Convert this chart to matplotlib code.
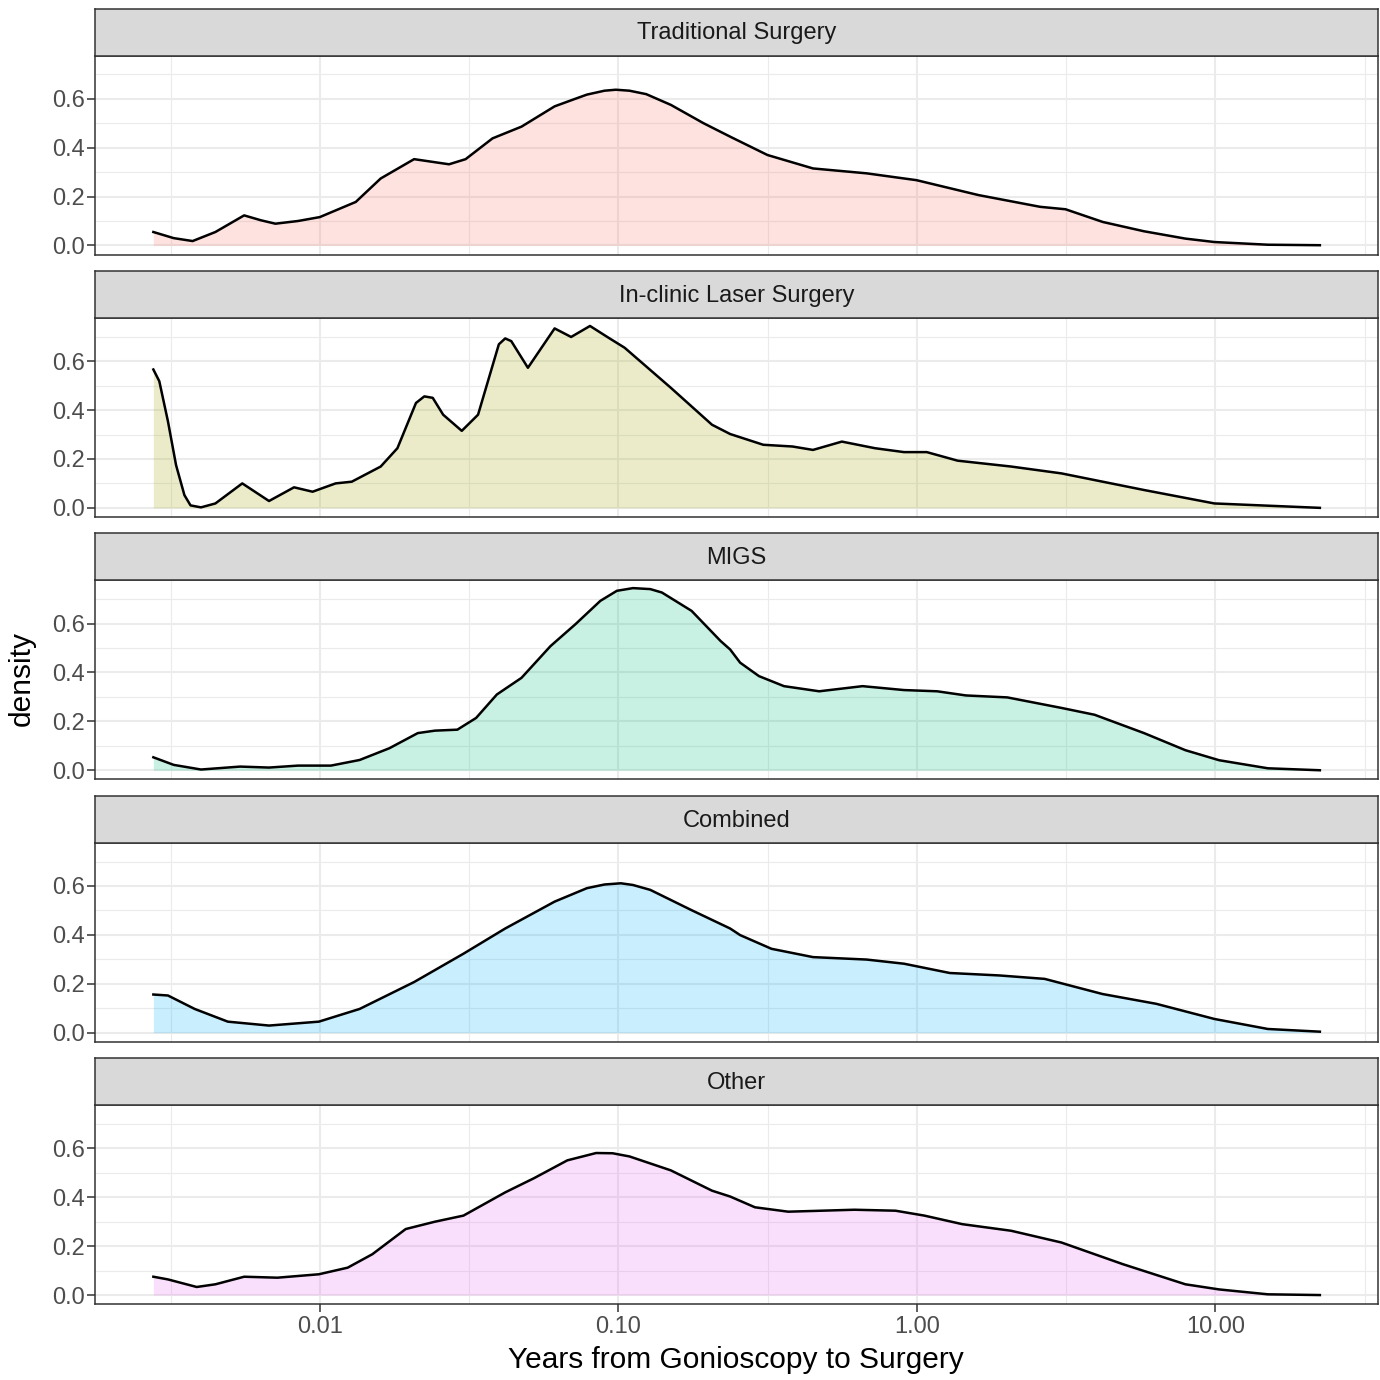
import matplotlib
matplotlib.use("Agg")
import matplotlib.pyplot as plt

plt.rcParams["font.family"] = ["Liberation Sans", "DejaVu Sans"]

# ---- data (years, density) ----
groups = ["Traditional Surgery", "In-clinic Laser Surgery", "MIGS", "Combined", "Other"]
fill_colors = ["#F8766D", "#A3A500", "#00BF7D", "#00B0F6", "#E76BF3"]

trad_x = [0.00277, 0.00324, 0.00375, 0.00447, 0.00558, 0.00635, 0.00710, 0.00845,
          0.0100, 0.0132, 0.0160, 0.0207, 0.0271, 0.0308, 0.0379, 0.0474, 0.0612,
          0.0718, 0.0785, 0.0899, 0.0982, 0.109, 0.124, 0.150, 0.193, 0.237, 0.316,
          0.449, 0.679, 0.998, 1.61, 2.59, 3.15, 4.20, 5.77, 7.94, 9.93, 15.0, 22.4]
trad_d = [0.055, 0.030, 0.018, 0.055, 0.123, 0.103, 0.089, 0.100,
          0.116, 0.178, 0.274, 0.353, 0.332, 0.353, 0.438, 0.486, 0.569,
          0.600, 0.617, 0.633, 0.637, 0.633, 0.619, 0.575, 0.500, 0.445, 0.370,
          0.315, 0.295, 0.267, 0.206, 0.158, 0.148, 0.096, 0.058, 0.028, 0.014, 0.003, 0.001]

laser_x = [0.00277, 0.00290, 0.00310, 0.00330, 0.00352, 0.00369, 0.00400, 0.00447,
           0.00550, 0.00676, 0.00820, 0.00946, 0.0113, 0.0128, 0.0160, 0.0182,
           0.0210, 0.0224, 0.0239, 0.0259, 0.0299, 0.0339, 0.0398, 0.0418, 0.0438,
           0.0498, 0.0612, 0.0695, 0.0804, 0.0927, 0.105, 0.150, 0.206, 0.237,
           0.306, 0.383, 0.449, 0.561, 0.724, 0.906, 1.08, 1.37, 2.07, 3.05, 5.77,
           9.93, 22.4]
laser_d = [0.566, 0.518, 0.354, 0.175, 0.052, 0.010, 0.002, 0.018,
           0.100, 0.028, 0.084, 0.066, 0.100, 0.107, 0.169, 0.244,
           0.429, 0.456, 0.450, 0.381, 0.315, 0.381, 0.669, 0.693, 0.682,
           0.573, 0.734, 0.699, 0.744, 0.696, 0.655, 0.491, 0.340, 0.302,
           0.258, 0.251, 0.237, 0.271, 0.244, 0.228, 0.228, 0.193, 0.169, 0.141, 0.073,
           0.018, 0.0]

migs_x = [0.00277, 0.00324, 0.00400, 0.00541, 0.00676, 0.00845, 0.0109, 0.0136,
          0.0171, 0.0213, 0.0243, 0.0289, 0.0334, 0.0392, 0.0474, 0.0593, 0.0718,
          0.0871, 0.0989, 0.112, 0.128, 0.140, 0.176, 0.220, 0.237, 0.256, 0.296,
          0.359, 0.471, 0.658, 0.906, 1.17, 1.46, 2.01, 3.05, 3.94, 5.77, 7.94,
          10.3, 15.0, 22.4]
migs_d = [0.053, 0.022, 0.003, 0.015, 0.011, 0.019, 0.019, 0.042,
          0.090, 0.152, 0.162, 0.166, 0.214, 0.310, 0.378, 0.508, 0.597,
          0.693, 0.734, 0.745, 0.741, 0.727, 0.652, 0.529, 0.494, 0.440, 0.385,
          0.344, 0.323, 0.344, 0.328, 0.323, 0.306, 0.298, 0.255, 0.227, 0.152, 0.082,
          0.041, 0.008, 0.0]

comb_x = [0.00277, 0.00310, 0.00381, 0.00492, 0.00676, 0.00993, 0.0136, 0.0207,
          0.0303, 0.0418, 0.0612, 0.0785, 0.0899, 0.102, 0.112, 0.128, 0.176, 0.237,
          0.256, 0.326, 0.449, 0.679, 0.906, 1.29, 1.89, 2.68, 4.19, 6.34, 9.93,
          15.0, 22.4]
comb_d = [0.156, 0.152, 0.097, 0.045, 0.029, 0.045, 0.097, 0.207,
          0.323, 0.426, 0.536, 0.591, 0.606, 0.611, 0.604, 0.584, 0.501, 0.426,
          0.399, 0.343, 0.309, 0.299, 0.282, 0.244, 0.234, 0.220, 0.158, 0.118, 0.056,
          0.015, 0.004]

other_x = [0.00277, 0.00310, 0.00387, 0.00447, 0.00558, 0.00721, 0.00993, 0.0124,
           0.0150, 0.0194, 0.0243, 0.0303, 0.0418, 0.0522, 0.0675, 0.0843, 0.0957,
           0.109, 0.150, 0.206, 0.237, 0.287, 0.371, 0.618, 0.849, 1.06, 1.42, 2.07,
           3.05, 4.91, 7.94, 10.3, 15.0, 22.4]
other_d = [0.075, 0.064, 0.033, 0.044, 0.075, 0.071, 0.085, 0.112,
           0.167, 0.270, 0.300, 0.325, 0.420, 0.478, 0.551, 0.581, 0.580,
           0.567, 0.510, 0.427, 0.403, 0.359, 0.341, 0.349, 0.345, 0.325, 0.290, 0.263,
           0.215, 0.126, 0.044, 0.023, 0.003, 0.0]

series = [(trad_x, trad_d), (laser_x, laser_d), (migs_x, migs_d),
          (comb_x, comb_d), (other_x, other_d)]

x_major = [0.01, 0.1, 1, 10]
x_major_labels = ["0.01", "0.10", "1.00", "10.00"]
x_minor = [10 ** -2.5, 10 ** -1.5, 10 ** -0.5, 10 ** 0.5, 10 ** 1.5]
y_major = [0.0, 0.2, 0.4, 0.6]
y_minor = [0.1, 0.3, 0.5, 0.7]

# ---- layout (pixel based, 1380 x 1380) ----
W = H = 1380
fig = plt.figure(figsize=(13.8, 13.8), dpi=100)

left_px, right_px = 95, 1378
step = 262.4
panel_top0, panel_h = 55.5, 199
strip_top0, strip_h = 8.5, 47

tick_fs = 17
dark = "#333333"


def frac_box(top, h):
    return [left_px / W, 1 - (top + h) / H, (right_px - left_px) / W, h / H]


for i, (name, col, (xs, ds)) in enumerate(zip(groups, fill_colors, series)):
    ax = fig.add_axes(frac_box(panel_top0 + i * step, panel_h))
    ax.set_xscale("log")
    ax.set_xlim(10 ** -2.753, 10 ** 1.545)
    ax.set_ylim(-0.037, 0.777)
    ax.set_xticks(x_major)
    ax.set_xticks(x_minor, minor=True)
    ax.set_yticks(y_major)
    ax.set_yticks(y_minor, minor=True)
    ax.set_yticklabels([f"{v:.1f}" for v in y_major])
    ax.grid(which="major", color="#EBEBEB", lw=1.5)
    ax.grid(which="minor", color="#EBEBEB", lw=0.8)
    ax.set_axisbelow(True)

    ax.fill_between(xs, ds, 0, color=col, alpha=0.21, lw=0)
    ax.plot(xs, ds, color="black", lw=1.8, solid_joinstyle="round")

    for sp in ax.spines.values():
        sp.set_color(dark)
        sp.set_linewidth(1.1)
    ax.tick_params(which="minor", length=0)
    ax.tick_params(axis="y", which="major", length=5.5, width=1.1, color=dark,
                   labelsize=tick_fs, labelcolor="#4D4D4D", pad=2)
    if i == len(groups) - 1:
        ax.set_xticklabels(x_major_labels)
        ax.tick_params(axis="x", which="major", length=5.5, width=1.1, color=dark,
                       labelsize=tick_fs, labelcolor="#4D4D4D", pad=3)
    else:
        ax.tick_params(axis="x", which="major", length=0, labelbottom=False)

    # facet strip
    sax = fig.add_axes(frac_box(strip_top0 + i * step, strip_h))
    sax.set_facecolor("#D9D9D9")
    sax.set_xticks([])
    sax.set_yticks([])
    for sp in sax.spines.values():
        sp.set_color(dark)
        sp.set_linewidth(1.1)
    sax.text(0.5, 0.47, name, transform=sax.transAxes, ha="center", va="center",
             fontsize=tick_fs, color="#1A1A1A")

fig.text(22 / W, 1 - 678 / H, "density", rotation=90, ha="center", va="center",
         fontsize=21.5, color="black")
fig.text(736 / W, 1 - 1360 / H, "Years from Gonioscopy to Surgery", ha="center",
         va="center", fontsize=21.5, color="black")

fig.savefig("out.png", dpi=100)
